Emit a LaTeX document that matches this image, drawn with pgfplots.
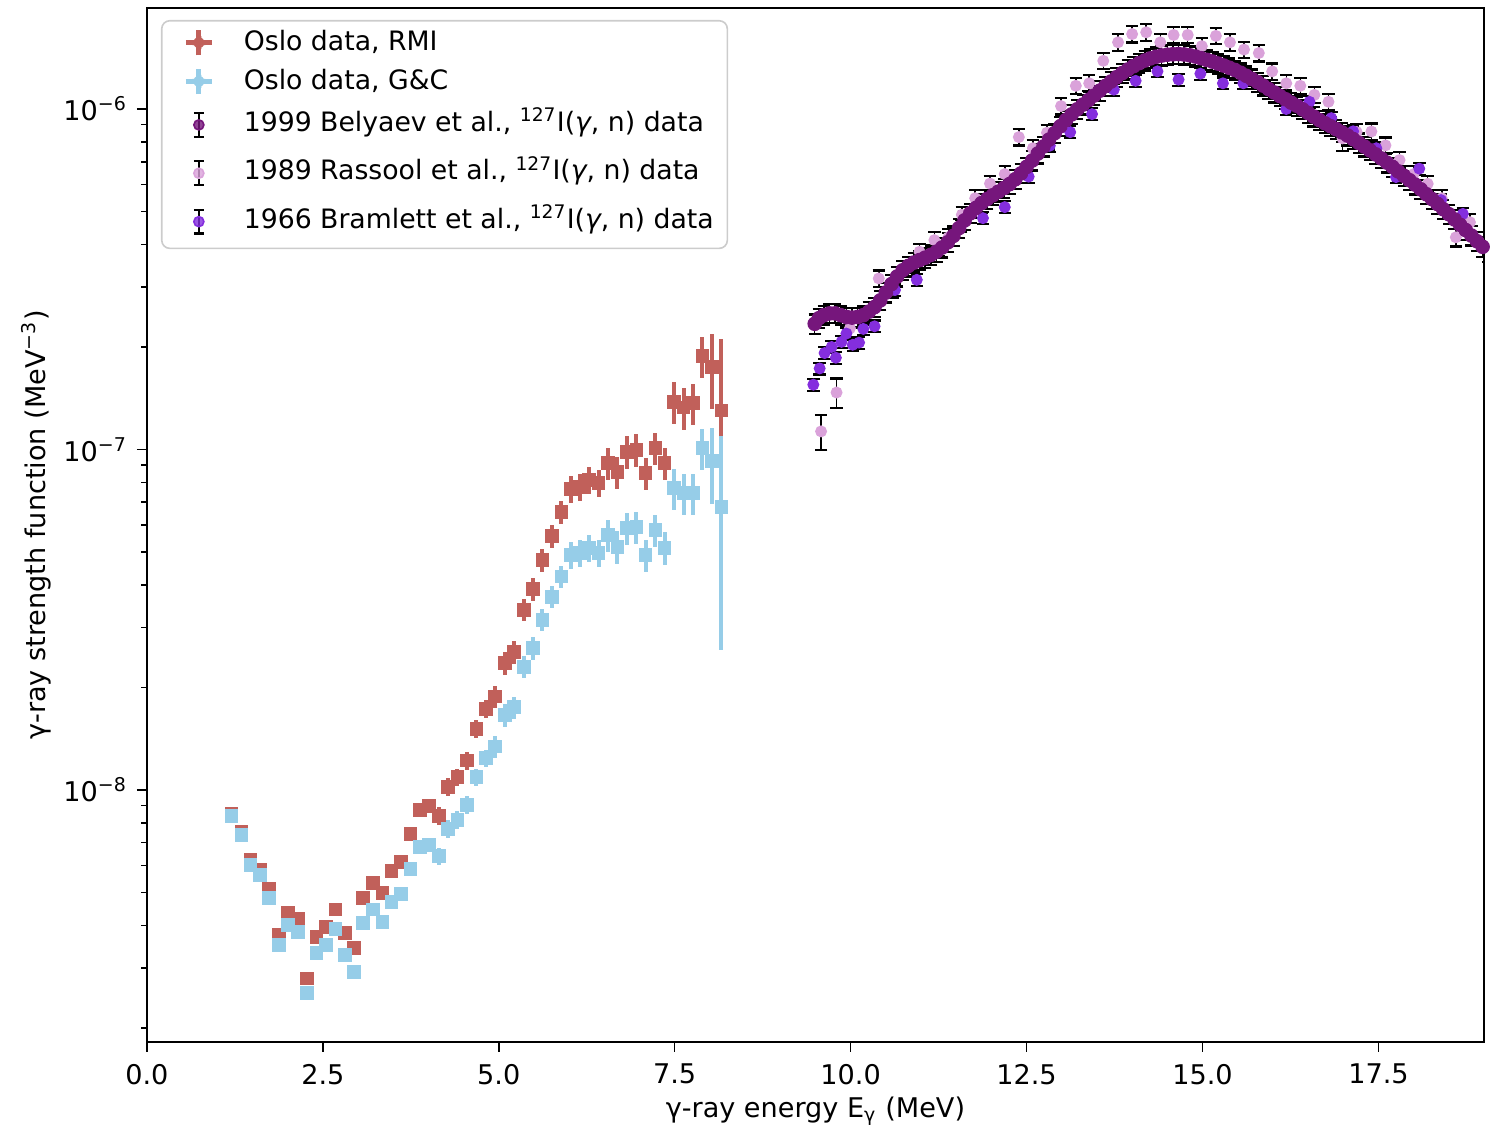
\documentclass[border=0pt]{standalone}
\usepackage{fontspec}
\setmainfont{DejaVu Sans}
\usepackage{pgfplots}
\usepackage{pgfplotstable}
\pgfplotsset{compat=1.18}
\definecolor{osloR}{RGB}{193,96,90}
\definecolor{osloB}{RGB}{150,205,232}
\definecolor{bel}{RGB}{118,22,124}
\definecolor{ras}{RGB}{218,162,218}
\definecolor{bra}{RGB}{132,46,222}

\pgfplotstableread{
x rmi gc r xe
1.203 8.50e-9 8.39e-9 0.04 0.09
1.345 7.55e-9 7.38e-9 0.04 0.09
1.473 6.22e-9 6.02e-9 0.04 0.09
1.609 5.82e-9 5.62e-9 0.04 0.09
1.737 5.12e-9 4.82e-9 0.04 0.09
1.875 3.75e-9 3.51e-9 0.04 0.09
2.007 4.36e-9 4.01e-9 0.04 0.09
2.149 4.18e-9 3.83e-9 0.04 0.09
2.277 2.79e-9 2.53e-9 0.04 0.09
2.410 3.70e-9 3.32e-9 0.04 0.09
2.543 3.96e-9 3.51e-9 0.04 0.09
2.680 4.45e-9 3.91e-9 0.04 0.09
2.813 3.80e-9 3.27e-9 0.04 0.09
2.945 3.43e-9 2.92e-9 0.04 0.09
3.072 4.82e-9 4.06e-9 0.04 0.09
3.214 5.33e-9 4.45e-9 0.04 0.09
3.348 4.99e-9 4.09e-9 0.04 0.09
3.476 5.78e-9 4.69e-9 0.04 0.09
3.608 6.15e-9 4.95e-9 0.04 0.09
3.746 7.43e-9 5.86e-9 0.04 0.09
3.878 8.73e-9 6.80e-9 0.04 0.09
4.010 8.97e-9 6.89e-9 0.04 0.09
4.148 8.39e-9 6.39e-9 0.06 0.09
4.280 1.02e-8 7.68e-9 0.06 0.09
4.413 1.09e-8 8.16e-9 0.06 0.09
4.550 1.22e-8 9.04e-9 0.06 0.09
4.683 1.51e-8 1.09e-8 0.06 0.09
4.815 1.73e-8 1.24e-8 0.06 0.09
4.943 1.88e-8 1.34e-8 0.075 0.09
5.085 2.36e-8 1.66e-8 0.075 0.09
5.217 2.54e-8 1.75e-8 0.075 0.09
5.355 3.38e-8 2.30e-8 0.075 0.09
5.487 3.89e-8 2.61e-8 0.075 0.09
5.621 4.73e-8 3.16e-8 0.075 0.09
5.753 5.57e-8 3.69e-8 0.075 0.09
5.891 6.55e-8 4.23e-8 0.075 0.09
6.023 7.65e-8 4.90e-8 0.09 0.09
6.151 7.77e-8 4.97e-8 0.09 0.09
6.283 8.13e-8 5.14e-8 0.09 0.09
6.420 7.98e-8 4.97e-8 0.09 0.09
6.553 9.13e-8 5.61e-8 0.11 0.09
6.686 8.59e-8 5.18e-8 0.11 0.09
6.822 9.84e-8 5.88e-8 0.11 0.09
6.956 9.97e-8 5.92e-8 0.11 0.09
7.088 8.53e-8 4.90e-8 0.11 0.09
7.226 1.01e-7 5.80e-8 0.11 0.09
7.358 9.13e-8 5.14e-8 0.11 0.09
7.490 1.38e-7 7.71e-8 0.14 0.09
7.628 1.33e-7 7.45e-8 0.14 0.09
7.760 1.37e-7 7.45e-8 0.14 0.09
7.893 1.88e-7 1.01e-7 0.14 0.09
8.030 1.75e-7 9.25e-8 0.25 0.09
8.163 1.30e-7 6.78e-8 0.62 0.09
}\oslo

\pgfplotstableread{
x y
9.49 2.34e-7
9.55 2.43e-7
9.62 2.48e-7
9.70 2.51e-7
9.78 2.51e-7
9.86 2.48e-7
9.94 2.45e-7
10.02 2.44e-7
10.10 2.45e-7
10.18 2.48e-7
10.26 2.54e-7
10.34 2.62e-7
10.42 2.74e-7
10.50 2.89e-7
10.58 3.06e-7
10.66 3.22e-7
10.74 3.36e-7
10.82 3.46e-7
10.90 3.54e-7
10.98 3.60e-7
11.06 3.66e-7
11.14 3.73e-7
11.22 3.81e-7
11.30 3.92e-7
11.38 4.06e-7
11.46 4.24e-7
11.54 4.47e-7
11.62 4.71e-7
11.70 4.94e-7
11.78 5.12e-7
11.86 5.29e-7
11.94 5.44e-7
12.02 5.58e-7
12.10 5.72e-7
12.18 5.86e-7
12.26 6.02e-7
12.34 6.22e-7
12.42 6.47e-7
12.50 6.76e-7
12.58 7.06e-7
12.66 7.40e-7
12.74 7.76e-7
12.82 8.13e-7
12.90 8.50e-7
12.98 8.90e-7
13.06 9.28e-7
13.14 9.64e-7
13.22 9.98e-7
13.30 1.030e-6
13.38 1.062e-6
13.46 1.096e-6
13.54 1.132e-6
13.62 1.168e-6
13.70 1.204e-6
13.78 1.240e-6
13.86 1.275e-6
13.94 1.306e-6
14.02 1.336e-6
14.10 1.364e-6
14.18 1.388e-6
14.26 1.408e-6
14.34 1.424e-6
14.42 1.436e-6
14.50 1.444e-6
14.58 1.448e-6
14.66 1.450e-6
14.74 1.446e-6
14.82 1.438e-6
14.90 1.426e-6
14.98 1.410e-6
15.06 1.394e-6
15.14 1.378e-6
15.22 1.360e-6
15.30 1.342e-6
15.38 1.322e-6
15.46 1.302e-6
15.54 1.278e-6
15.62 1.252e-6
15.70 1.226e-6
15.78 1.200e-6
15.86 1.172e-6
15.94 1.144e-6
16.02 1.118e-6
16.10 1.092e-6
16.18 1.068e-6
16.26 1.044e-6
16.34 1.022e-6
16.42 9.98e-7
16.50 9.74e-7
16.58 9.50e-7
16.66 9.28e-7
16.74 9.08e-7
16.82 8.90e-7
16.90 8.72e-7
16.98 8.54e-7
17.06 8.36e-7
17.14 8.16e-7
17.22 7.96e-7
17.30 7.76e-7
17.38 7.56e-7
17.46 7.36e-7
17.54 7.16e-7
17.62 6.96e-7
17.70 6.76e-7
17.78 6.56e-7
17.86 6.37e-7
17.94 6.18e-7
18.02 6.00e-7
18.10 5.81e-7
18.18 5.62e-7
18.26 5.44e-7
18.34 5.26e-7
18.42 5.08e-7
18.50 4.91e-7
18.58 4.74e-7
18.66 4.57e-7
18.74 4.41e-7
18.82 4.25e-7
18.90 4.09e-7
18.98 3.94e-7
19.06 3.80e-7
19.14 3.66e-7
}\belyaev

\pgfplotstableread{
x y r
9.58 1.13e-7 0.12
9.80 1.47e-7 0.10
9.99 2.27e-7 0.06
10.19 2.50e-7 0.055
10.40 3.18e-7 0.055
10.60 2.95e-7 0.055
10.79 3.40e-7 0.055
10.98 3.81e-7 0.055
11.19 4.12e-7 0.055
11.39 4.20e-7 0.055
11.58 4.89e-7 0.055
11.77 5.47e-7 0.055
11.98 6.04e-7 0.055
12.19 6.44e-7 0.055
12.39 8.27e-7 0.055
12.59 7.67e-7 0.055
12.79 8.52e-7 0.055
12.99 1.02e-6 0.055
13.20 1.17e-6 0.055
13.39 1.19e-6 0.055
13.59 1.385e-6 0.055
13.80 1.57e-6 0.055
14.00 1.66e-6 0.055
14.20 1.68e-6 0.055
14.40 1.57e-6 0.055
14.59 1.65e-6 0.055
14.79 1.65e-6 0.055
14.99 1.53e-6 0.055
15.19 1.64e-6 0.055
15.39 1.57e-6 0.055
15.59 1.495e-6 0.055
15.80 1.46e-6 0.055
15.99 1.29e-6 0.055
16.19 1.19e-6 0.055
16.39 1.17e-6 0.055
16.59 1.10e-6 0.055
16.79 1.05e-6 0.055
16.99 8.20e-7 0.08
17.19 8.56e-7 0.055
17.40 8.59e-7 0.055
17.60 7.82e-7 0.055
17.80 7.08e-7 0.055
18.00 6.44e-7 0.055
18.20 6.03e-7 0.055
18.40 5.47e-7 0.055
18.60 4.20e-7 0.06
18.80 4.65e-7 0.055
}\rassool

\pgfplotstableread{
x y
9.47 1.55e-7
9.56 1.73e-7
9.63 1.92e-7
9.73 2.00e-7
9.79 1.86e-7
9.87 2.07e-7
9.94 2.19e-7
10.03 2.03e-7
10.12 2.06e-7
10.18 2.26e-7
10.34 2.30e-7
10.63 2.94e-7
10.94 3.15e-7
11.25 3.85e-7
11.57 4.55e-7
11.88 4.78e-7
12.19 5.15e-7
12.53 6.33e-7
12.83 7.80e-7
13.12 8.55e-7
13.43 9.66e-7
13.74 1.14e-6
14.05 1.21e-6
14.36 1.29e-6
14.66 1.22e-6
14.97 1.27e-6
15.29 1.19e-6
15.58 1.19e-6
15.89 1.16e-6
16.19 1.00e-6
16.52 1.05e-6
16.83 9.40e-7
17.14 8.60e-7
17.47 7.67e-7
17.75 6.31e-7
18.08 6.68e-7
18.39 5.40e-7
18.70 4.92e-7
}\bramlett

\begin{document}
\begin{tikzpicture}
\begin{axis}[
  scale only axis,
  width=493.4pt, height=381.5pt,
  xmin=0, xmax=19.0,
  ymode=log, ymin=1.82e-9, ymax=1.98e-6,
  axis line style={line width=0.65pt},
  tick style={black, line width=0.55pt},
  tick align=outside,
  xtick pos=bottom, ytick pos=left,
  major tick length=3.7pt, minor tick length=2.1pt,
  xtick={0,2.5,5,7.5,10,12.5,15,17.5},
  xticklabels={0.0,2.5,5.0,7.5,10.0,12.5,15.0,17.5},
  ytick={1e-8,1e-7,1e-6},
  yticklabels={10\textsuperscript{−8},10\textsuperscript{−7},10\textsuperscript{−6}},
  minor ytick={2e-9,3e-9,4e-9,5e-9,6e-9,7e-9,8e-9,9e-9,2e-8,3e-8,4e-8,5e-8,6e-8,7e-8,8e-8,9e-8,2e-7,3e-7,4e-7,5e-7,6e-7,7e-7,8e-7,9e-7},
  ticklabel style={font=\fontsize{10}{12}\selectfont},
  xticklabel style={yshift=-1pt},
  xlabel={γ-ray energy E\textsubscript{γ} (MeV)},
  ylabel={γ-ray strength function (MeV\textsuperscript{−3})},
  every axis x label/.style={at={(axis description cs:0.5,0)}, anchor=base, yshift=-28pt, font=\fontsize{10}{12}\selectfont},
  every axis y label/.style={at={(axis description cs:0,0.5)}, rotate=90, anchor=base, yshift=37.3pt, font=\fontsize{10}{12}\selectfont},
  legend style={at={(0.0105,0.9885)}, anchor=north west, draw=black!20, line width=0.6pt, rounded corners=3pt, fill=white, fill opacity=0.8, text opacity=1, draw opacity=1, font=\fontsize{9.85}{12}\selectfont, row sep=1.3pt, inner xsep=3pt, inner ysep=1.6pt},
  legend cell align=left,
  clip=true,
]
% Oslo RMI
\addplot[osloR, only marks, mark=square*, mark size=2.3pt, forget plot,
  error bars/.cd, y dir=both, y explicit relative, x dir=both, x explicit,
  error mark=none, error bar style={osloR, line width=1.5pt}]
  table[x=x, y=rmi, y error=r, x error=xe] {\oslo};
% Oslo G&C
\addplot[osloB, only marks, mark=square*, mark size=2.3pt, forget plot,
  error bars/.cd, y dir=both, y explicit relative, x dir=both, x explicit,
  error mark=none, error bar style={osloB, line width=1.5pt}]
  table[x=x, y=gc, y error=r, x error=xe] {\oslo};
% Rassool
\addplot[ras, only marks, mark=*, mark size=2.0pt, forget plot,
  error bars/.cd, y dir=both, y explicit relative, error mark=-,
  error bar style={black, line width=0.55pt},
  error mark options={black, line width=0.8pt, mark size=2.3pt, rotate=90}]
  table[x=x, y=y, y error=r] {\rassool};
% Bramlett
\addplot[bra, only marks, mark=*, mark size=2.0pt, forget plot,
  error bars/.cd, y dir=both, y explicit relative, error mark=-,
  error bar style={black, line width=0.55pt},
  error mark options={black, line width=0.8pt, mark size=2.3pt, rotate=90}]
  table[x=x, y=y, y error expr=0.04] {\bramlett};
% Belyaev
\addplot[bel, only marks, mark=*, mark size=2.5pt, forget plot,
  error bars/.cd, y dir=both, y explicit relative, error mark=-,
  error bar style={black, line width=0.55pt},
  error mark options={black, line width=0.8pt, mark size=2.3pt, rotate=90}]
  table[x=x, y=y, y error expr=0.065] {\belyaev};

\addlegendimage{legend image code/.code={
  \path[draw=none, fill=none] (0pt,-3.5pt) rectangle (25.3pt,3.5pt);
  \draw[osloR, line width=1.8pt] (10.7pt,-4.7pt)--(10.7pt,4.7pt) (5.9pt,0pt)--(15.5pt,0pt);
  \fill[osloR] (8.6pt,-2.1pt) rectangle (12.8pt,2.1pt);}}
\addlegendentry{Oslo data, RMI}
\addlegendimage{legend image code/.code={
  \path[draw=none, fill=none] (0pt,-3.5pt) rectangle (25.3pt,3.5pt);
  \draw[osloB, line width=1.8pt] (10.7pt,-4.7pt)--(10.7pt,4.7pt) (5.9pt,0pt)--(15.5pt,0pt);
  \fill[osloB] (8.6pt,-2.1pt) rectangle (12.8pt,2.1pt);}}
\addlegendentry{Oslo data, G\&C}
\addlegendimage{legend image code/.code={
  \path[draw=none, fill=none] (0pt,-3.5pt) rectangle (25.3pt,3.5pt);
  \draw[black, line width=0.55pt] (10.7pt,-4.4pt)--(10.7pt,4.4pt);
  \draw[black, line width=0.8pt] (8.9pt,-4.4pt)--(12.5pt,-4.4pt) (8.9pt,4.4pt)--(12.5pt,4.4pt);
  \fill[bel] (10.7pt,0pt) circle (1.85pt);}}
\addlegendentry[text depth=3.8pt]{1999 Belyaev et al., \textsuperscript{127}I({\itshape γ}, n) data}
\addlegendimage{legend image code/.code={
  \path[draw=none, fill=none] (0pt,-3.5pt) rectangle (25.3pt,3.5pt);
  \draw[black, line width=0.55pt] (10.7pt,-4.4pt)--(10.7pt,4.4pt);
  \draw[black, line width=0.8pt] (8.9pt,-4.4pt)--(12.5pt,-4.4pt) (8.9pt,4.4pt)--(12.5pt,4.4pt);
  \fill[ras] (10.7pt,0pt) circle (1.85pt);}}
\addlegendentry[text depth=3.8pt]{1989 Rassool et al., \textsuperscript{127}I({\itshape γ}, n) data}
\addlegendimage{legend image code/.code={
  \path[draw=none, fill=none] (0pt,-3.5pt) rectangle (25.3pt,3.5pt);
  \draw[black, line width=0.55pt] (10.7pt,-4.4pt)--(10.7pt,4.4pt);
  \draw[black, line width=0.8pt] (8.9pt,-4.4pt)--(12.5pt,-4.4pt) (8.9pt,4.4pt)--(12.5pt,4.4pt);
  \fill[bra] (10.7pt,0pt) circle (1.85pt);}}
\addlegendentry[text depth=3.8pt]{1966 Bramlett et al., \textsuperscript{127}I({\itshape γ}, n) data}
\end{axis}
\pgfresetboundingbox
\path ([shift={(-54.2pt,-32.1pt)}]current axis.south west) rectangle ([shift={(5.17pt,2.95pt)}]current axis.north east);
\end{tikzpicture}
\end{document}
